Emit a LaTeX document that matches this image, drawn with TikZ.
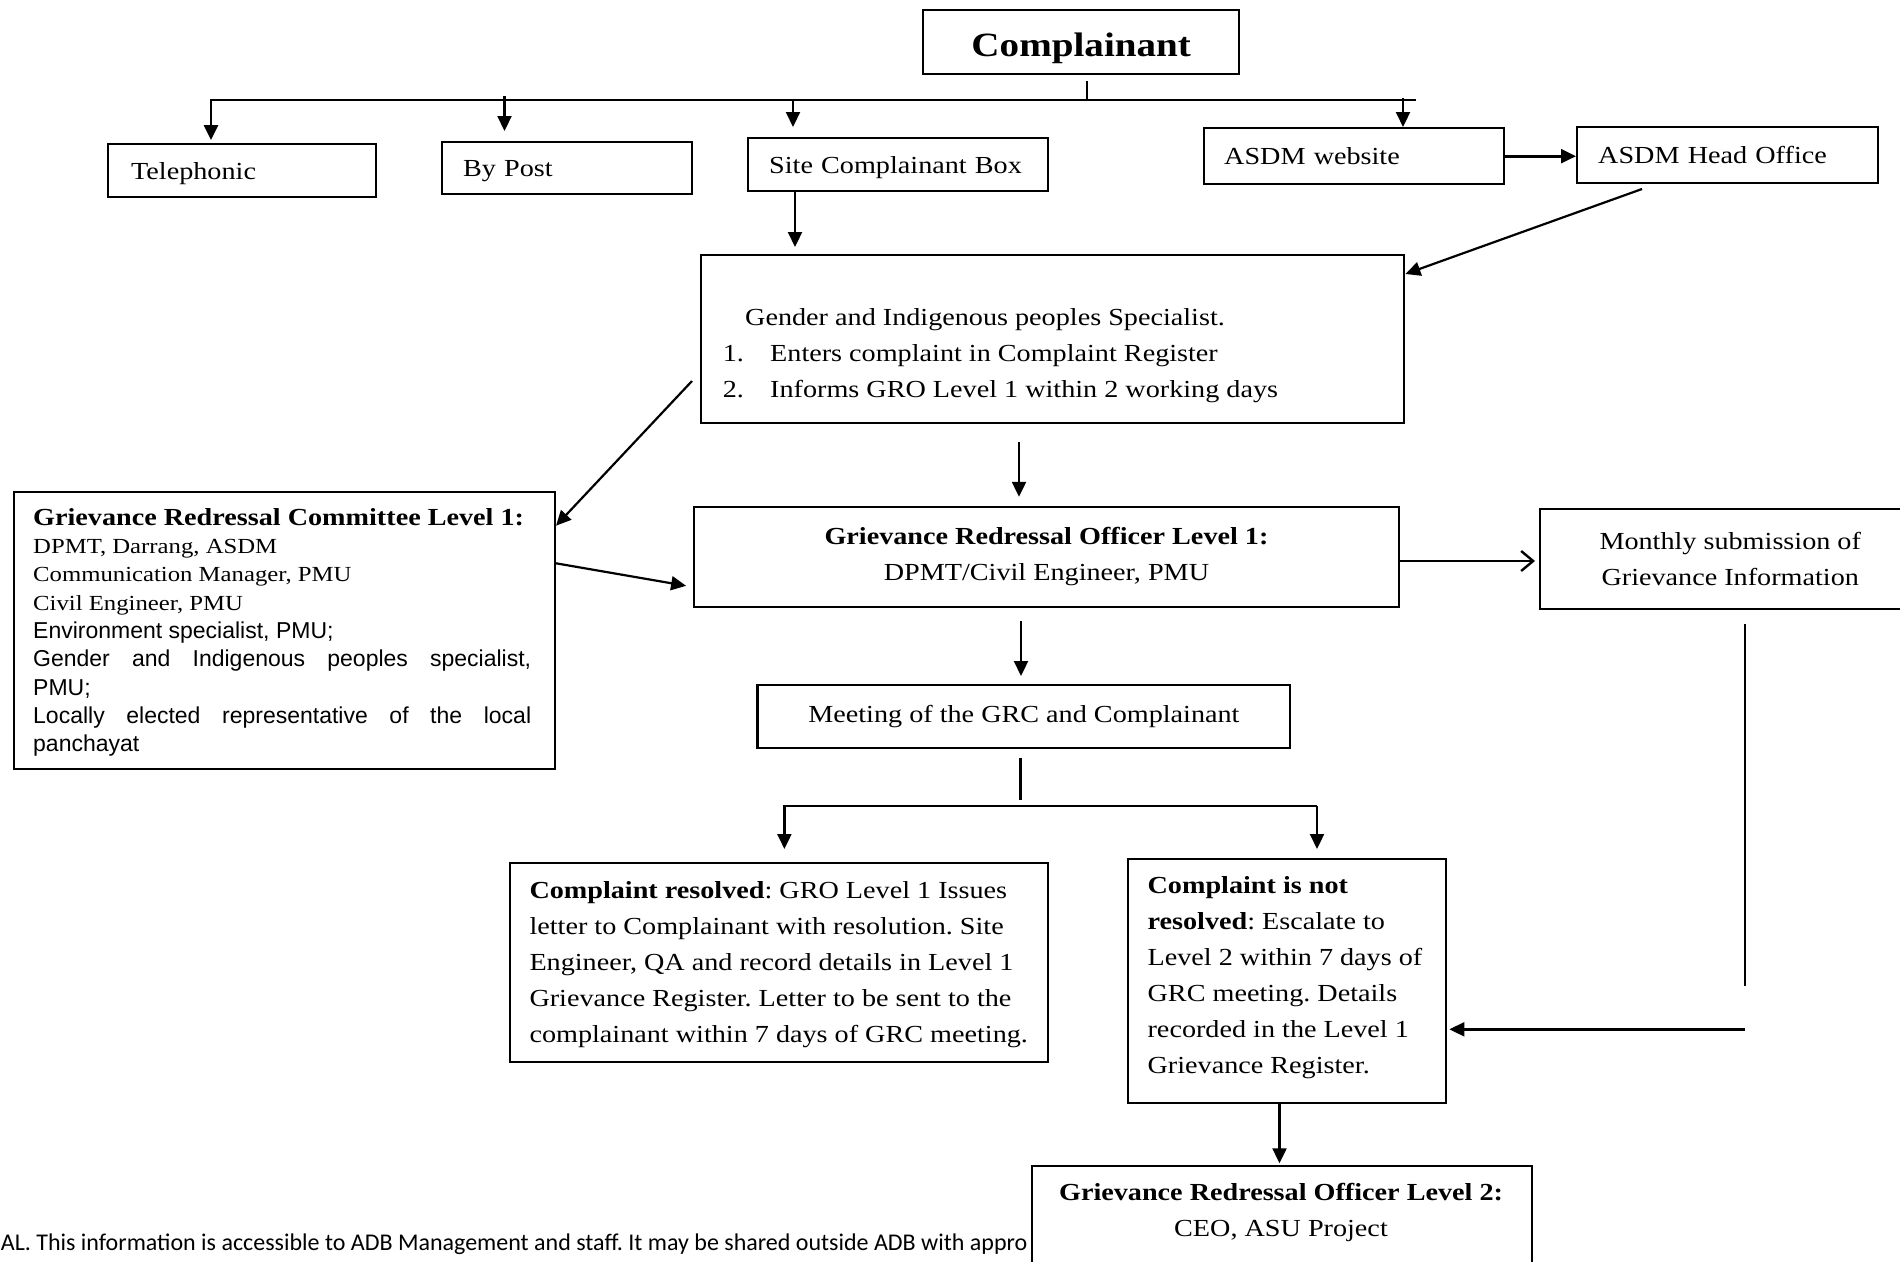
\documentclass[tikz,border=0pt]{standalone}
\usepackage{fontspec}
\setmainfont{Liberation Serif}[FakeStretch=1.15]
\newfontfamily\arialf{Liberation Sans}
\newfontfamily\calibrif{Carlito}
\usetikzlibrary{arrows.meta,calc}
\frenchspacing
\newcommand\msz{\fontsize{24.5}{36}\selectfont}
\tikzset{
  box/.style={draw, line width=2.4pt, fill=white, inner sep=0pt, anchor=north west, font=\msz},
  lbox/.style={box, align=left, text height=17pt, text depth=0pt},
  cbox/.style={box, align=center},
  txt/.style={inner sep=0pt, anchor=north west, align=left, font=\msz},
  ln/.style={line width=2.2pt},
  arr/.style={line width=2.2pt, -{Triangle[length=15pt,width=14pt]}},
  oarr/.style={line width=2.2pt, -{Straight Barb[length=12pt,width=20pt,line width=2.4pt]}},
}
\begin{document}
\begin{tikzpicture}[x=1pt,y=-1pt]
\useasboundingbox (0,0) rectangle (1900,1261);
\fill[white] (0,0) rectangle (1900,1261);

% footer (partly hidden by the level 2 box)
\node[inner sep=0pt, anchor=base west, font=\calibrif\fontsize{24}{28}\selectfont] (foot) at (0.7,1250)
  {AL. This information is accessible to ADB Management and staff. It may be shared outside ADB with appro};

% boxes
\node[box, minimum width=316pt, minimum height=64pt, text height=28pt, text depth=0pt,
      font=\fontsize{34}{40}\selectfont\bfseries] (comp) at (922,9) {Complainant};
\node[lbox, minimum height=53pt, text width=221.5pt, inner xsep=23.5pt] (tel) at (106.5,143) {Telephonic};
\node[lbox, minimum height=52pt, text width=208pt, inner xsep=21pt] (post) at (441,141) {By Post};
\node[lbox, minimum height=53pt, text width=258pt, inner xsep=21pt] (site) at (747,137) {Site Complainant Box};
\node[lbox, minimum height=56pt, text width=260pt, inner xsep=20pt] (web) at (1203,127) {ASDM website};
\node[lbox, minimum height=56pt, text width=259pt, inner xsep=21pt] (head) at (1576,126) {ASDM Head Office};

\node[box, minimum width=703pt, minimum height=167.5pt] (gender) at (700,254) {};
\node[txt] (gendertxt) at (722.6,299.8)
  {\strut\hspace*{22.4pt}Gender and Indigenous peoples Specialist.\\
   \makebox[47.4pt][l]{1.}Enters complaint in Complaint Register\\
   \makebox[47.4pt][l]{2.}Informs GRO Level 1 within 2 working days};

\node[box, minimum width=540.8pt, minimum height=276.8pt] (grc) at (12.8,490.7) {};
\node[txt, text width=498pt, align=justify, font=\fontsize{21.5}{28.3}\selectfont] (grctxt) at (33,505.2)
  {\strut{\fontsize{24.5}{28.3}\selectfont\bfseries Grievance Redressal Committee Level 1:}\\
   DPMT, Darrang, ASDM\\
   Communication Manager, PMU\\
   Civil Engineer, PMU\\
   {\arialf\fontsize{23}{28.3}\selectfont Environment specialist, PMU;}\\
   {\arialf\fontsize{23}{28.3}\selectfont Gender and Indigenous peoples specialist,\linebreak
   PMU;\\
   Locally elected representative of the local\linebreak
   panchayat}};

\node[cbox, minimum width=704.5pt, minimum height=100pt] (gro1) at (693,505.8)
  {\textbf{Grievance Redressal Officer Level 1:}\\DPMT/Civil Engineer, PMU};
\node[cbox, minimum width=380pt, minimum height=100pt] (monthly) at (1539,508)
  {Monthly submission of\\Grievance Information};
\node[cbox, minimum width=532.6pt, minimum height=63pt] (meet) at (756.4,684)
  {Meeting of the GRC and Complainant};

\node[box, minimum width=537.7pt, minimum height=199pt] (res) at (509,862) {};
\node[txt] (restxt) at (529.3,873.5)
  {\strut\textbf{Complaint resolved}: GRO Level 1 Issues\\
   letter to Complainant with resolution. Site\\
   Engineer, QA and record details in Level 1\\
   Grievance Register. Letter to be sent to the\\
   complainant within 7 days of GRC meeting.};

\node[box, minimum width=318pt, minimum height=244.3pt] (notres) at (1127,857.7) {};
\node[txt] (notrestxt) at (1147.4,868.5)
  {\strut\textbf{Complaint is not}\\
   \textbf{resolved}: Escalate to\\
   Level 2 within 7 days of\\
   GRC meeting. Details\\
   recorded in the Level 1\\
   Grievance Register.};

\node[box, minimum width=500.3pt, minimum height=130pt] (gro2) at (1030.7,1165) {};
\node[inner sep=0pt, anchor=north, align=center, font=\msz] (gro2txt) at (1281,1174.8)
  {\strut\textbf{Grievance Redressal Officer Level 2:}\\CEO, ASU Project};

% coordinates
\coordinate (bus) at (1087,100);
\coordinate (busL) at (211,100);
\coordinate (busR) at (1416,100);
\coordinate (bp) at (504.5,96);
\coordinate (bs) at (793,100);
\coordinate (bw) at (1403,98);
\coordinate (xsite) at (795,0);
\coordinate (hs) at (1642,189);
\coordinate (gl) at (692,381);
\coordinate (xg) at (1019,0);
\coordinate (xm) at (1021,0);
\coordinate (xs) at (1020.5,0);
\coordinate (split) at (1020.5,800);
\coordinate (brL) at (784.4,806);
\coordinate (brR) at (1317,806);
\coordinate (xv) at (1745,0);
\coordinate (vend) at (1745,986);
\coordinate (hstart) at (1745,1029.3);
\coordinate (xn) at (1279.5,0);

% connectors
\draw[ln, shorten <=6pt] (comp.south -| bus) -- (bus);
\draw[arr, shorten >=3pt, line width=2.6pt] (busR) -- (busL) -- (busL |- tel.north);
\draw[arr, shorten >=10pt] (bp) -- (bp |- post.north);
\draw[arr, shorten >=10pt] (bs) -- (bs |- site.north);
\draw[arr] (bw) -- (bw |- web.north);
\draw[arr, shorten >=7pt] (site.south -| xsite) -- (xsite |- gender.north);
\draw[arr, line width=2.6pt] (web.east) -- (web.east -| head.west);
\draw[arr] (hs) -- ([yshift=-20pt]gender.north east);
\draw[arr] (gl) -- ([yshift=-35pt]grc.north east);
\draw[arr, shorten >=7pt] ([yshift=67pt]grc.east) -- ([yshift=-30pt]gro1.west);
\draw[arr, shorten <=18.5pt, shorten >=9pt] (gender.south -| xg) -- (xg |- gro1.north);
\draw[oarr, shorten >=4pt] ([yshift=-4pt]gro1.east) -- ([yshift=-4pt]gro1.east -| monthly.west);
\draw[arr, shorten <=13pt, shorten >=8pt] (gro1.south -| xm) -- (xm |- meet.north);
\draw[ln, shorten <=8.5pt] (meet.south -| xs) -- (split);
\draw[arr, shorten >=13pt] (brR) -- (brL) -- (brL |- res.north);
\draw[arr, shorten >=8.7pt] (brR) -- (brR |- notres.north);
\draw[ln, shorten <=14pt] (monthly.south -| xv) -- (vend);
\draw[arr, shorten >=2pt, line width=2.6pt] (hstart) -- (hstart -| notres.east);
\draw[arr, shorten >=1.7pt] (notres.south -| xn) -- (xn |- gro2.north);
\end{tikzpicture}
\end{document}
